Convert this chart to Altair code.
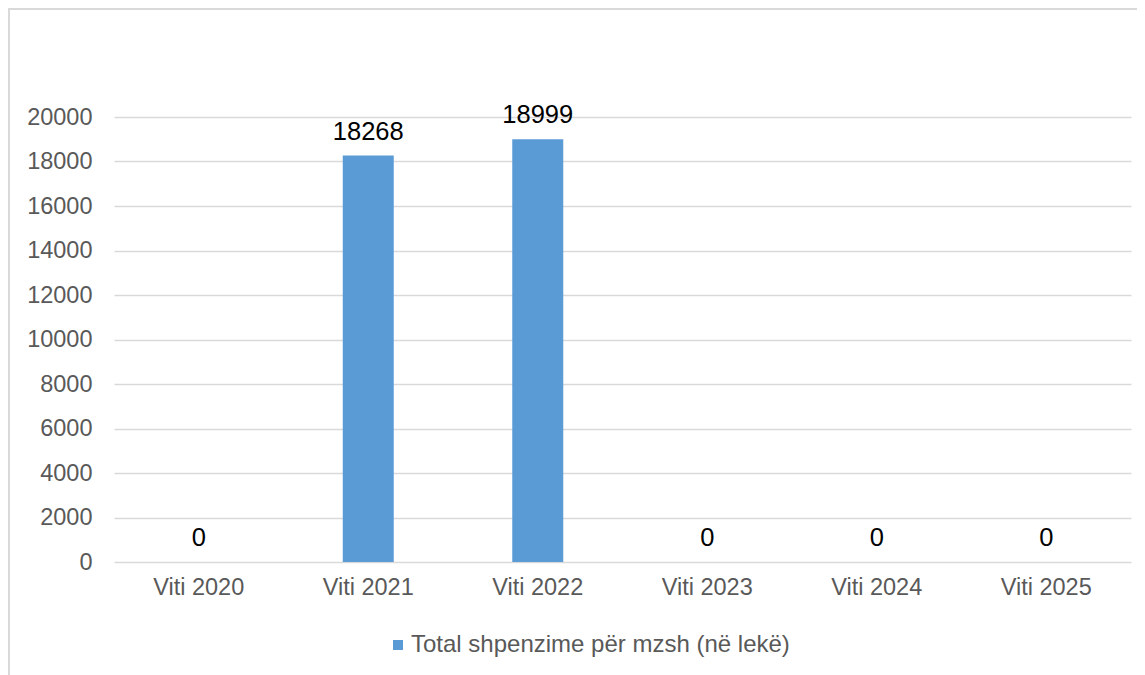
import altair as alt
import pandas as pd

years = ["Viti 2020", "Viti 2021", "Viti 2022", "Viti 2023", "Viti 2024", "Viti 2025"]
values = [0, 18268, 18999, 0, 0, 0]
series = "Total shpenzime për mzsh (në lekë)"
y_ticks = list(range(0, 20001, 2000))

df = pd.DataFrame({"year": years, "value": values, "series": [series] * len(years)})

FONT = "Liberation Sans"
GRID = "#D9D9D9"
TXT = "#595959"
BAR = "#5B9BD5"

x = alt.X("year:N", sort=years, title=None,
          scale=alt.Scale(paddingInner=0.7, paddingOuter=0.35),
          axis=alt.Axis(labelAngle=0, domain=False, ticks=False, grid=False, labelPadding=13,
                        labelFontSize=23.5, labelColor=TXT, labelFont=FONT))
y = alt.Y("value:Q", title=None,
          scale=alt.Scale(domain=[0, 20000], nice=False),
          axis=alt.Axis(values=y_ticks, format="d", domain=False, ticks=False, labelPadding=22,
                        labelFontSize=23.5, labelColor=TXT, labelFont=FONT,
                        gridColor=GRID, gridWidth=1.5))

bars = alt.Chart(df).mark_bar(size=51).encode(
    x=x, y=y,
    color=alt.Color("series:N", scale=alt.Scale(range=[BAR]), title=None,
                    legend=alt.Legend(orient="none", legendX=272, legendY=516,
                                      symbolType="square", symbolSize=100,
                                      symbolStrokeWidth=0, labelFontSize=24,
                                      labelLimit=0,
                                      labelColor=TXT, labelFont=FONT, labelOffset=1)),
)

labels = alt.Chart(df).mark_text(baseline="alphabetic", dy=-16, fontSize=25.5,
                                 font=FONT, color="black").encode(
    x=alt.X("year:N", sort=years), y="value:Q", text="value:Q")

frame_top = alt.Chart(df).mark_rule(color=GRID, strokeWidth=2).encode(
    x=alt.value(-106), x2=alt.value(1040), y=alt.value(-108))
frame_left = alt.Chart(df).mark_rule(color=GRID, strokeWidth=2).encode(
    x=alt.value(-105), y=alt.value(-109), y2=alt.value(570))

chart = alt.layer(frame_top, frame_left, bars, labels).properties(
    width=1017, height=445,
    autosize=alt.AutoSizeParams(type="none"),
    padding={"left": 106, "top": 109, "right": 6, "bottom": 113},
).configure(background="white").configure_view(stroke=None)

chart.save("out.html", embed_options={"renderer": "svg", "actions": False})
